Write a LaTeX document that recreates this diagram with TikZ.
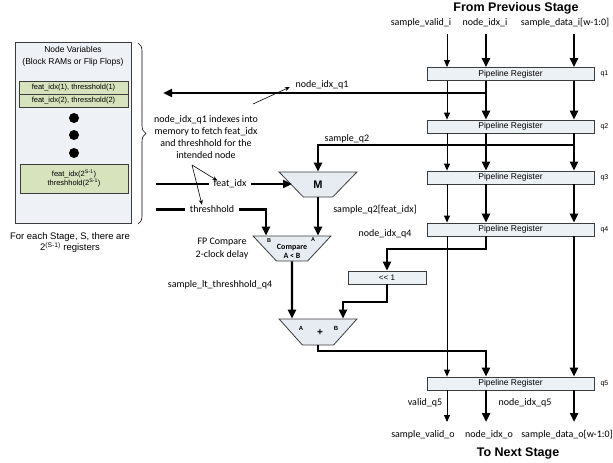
\documentclass[tikz,border=0pt]{standalone}
\usepackage{fontspec}
\setmainfont{Carlito}
\newfontfamily\arialfont{Liberation Sans}
\usetikzlibrary{arrows.meta,shapes.geometric,decorations.pathreplacing,positioning}
\definecolor{regFill}{RGB}{236,241,246}
\definecolor{memFill}{RGB}{238,242,247}
\definecolor{cellGreen}{RGB}{214,227,188}
\definecolor{aluFill}{RGB}{230,236,242}
\definecolor{lineGray}{RGB}{60,60,60}
\tikzstyle{wire}=[line width=0.9pt, -{Triangle[length=7pt,width=6pt]}]
\tikzstyle{bus}=[line width=2.4pt, -{Triangle[length=9pt,width=8pt]}]
\tikzstyle{pointer}=[line width=0.6pt, -{Stealth[length=5pt,width=4pt]}]
\tikzstyle{preg}=[draw=lineGray, line width=0.8pt, fill=regFill,
                  minimum width=167pt, minimum height=13pt, inner sep=0pt,
                  font=\arialfont\fontsize{8.5}{9}\selectfont]
\tikzstyle{cell}=[draw=lineGray, line width=0.8pt, fill=cellGreen,
                  minimum width=109pt, inner sep=0pt, align=center,
                  font=\arialfont\fontsize{7.5}{9.5}\selectfont]
\tikzstyle{alu}=[trapezium, shape border rotate=180, trapezium stretches=true,
                 trapezium angle=45, minimum width=78pt, minimum height=25pt,
                 draw=lineGray, line width=0.8pt, fill=aluFill, inner sep=0pt]
\tikzstyle{lbl}=[font=\fontsize{10}{12}\selectfont, inner sep=1pt]
\tikzstyle{tiny}=[font=\arialfont\fontsize{7}{8}\selectfont, inner sep=0pt]
\tikzstyle{head}=[font=\arialfont\bfseries\fontsize{12.5}{14}\selectfont, inner sep=0pt]

\begin{document}
\begin{tikzpicture}[x=1pt,y=-1pt]
    \useasboundingbox (0,0) rectangle (613,463);

    % memory of the stage
    \node[draw=lineGray, line width=0.8pt, fill=memFill, minimum width=116pt,
          minimum height=181pt, inner sep=0pt] (mem) at (73,132.5) {};
    \node[align=center, font=\arialfont\fontsize{8.5}{12}\selectfont]
          (memTitle) at (73,56) {Node Variables\\(Block RAMs or Flip Flops)};
    \node[cell, minimum height=13pt] (cell1) at (73.5,87.5) {feat\_idx(1), thresshold(1)};
    \node[cell, minimum height=13pt] (cell2) at (73.5,100.5) {feat\_idx(2), thresshold(2)};
    \foreach \y [count=\i] in {118,135,153}
        \fill (74,\y) circle (5pt) coordinate (dot\i);
    \node[cell, minimum height=29pt, minimum width=108pt] (cellN) at (74,178.5)
          {feat\_idx(2\textsuperscript{S-1})\\threshhold(2\textsuperscript{S-1})};
    \node[align=center, font=\arialfont\fontsize{9.5}{11}\selectfont] (memNote) at (70,243)
          {For each Stage, S, there are\\2\textsuperscript{(S-1)} registers};
    \draw[line width=0.6pt, decorate, decoration={brace, amplitude=8pt}]
          (138,43) -- (138,224);

    % pipeline registers
    \coordinate (cv) at (447,0);
    \coordinate (cn) at (486,0);
    \coordinate (cd) at (574,0);
    \foreach \n/\y in {1/74,2/126.5,3/177.5,4/229.5,5/383.5}{
        \node[preg] (r\n) at (510.5,\y) {Pipeline Register};
        \node[tiny, right=6pt of r\n] (q\n) {q\n};
    }

    \node[head] (fromPrev) at (516,8) {From Previous Stage};
    \node[lbl] (vIn) at (421,23) {sample\_valid\_i};
    \node[lbl] (nIn) at (485,23) {node\_idx\_i};
    \node[lbl] (dIn) at (565,23) {sample\_data\_i[w-1:0]};
    \coordinate (vTop) at (447,34);
    \coordinate (nTop) at (486,34);
    \coordinate (dTop) at (574,34);
    \draw[wire] (vTop) -- (r1.north -| cv);
    \draw[bus] (nTop) -- (r1.north -| cn);
    \draw[bus] (dTop) -- (r1.north -| cd);

    \foreach \a/\b in {r1/r2,r2/r3,r3/r4}{
        \draw[wire] (\a.south -| cv) -- (\b.north -| cv);
        \draw[bus] (\a.south -| cn) -- (\b.north -| cn);
        \draw[bus] (\a.south -| cd) -- (\b.north -| cd);
    }
    \draw[wire] (r4.south -| cv) -- (r5.north -| cv);
    \draw[bus] (r4.south -| cd) -- (r5.north -| cd);

    % index into memory
    \coordinate (tapN) at (486,93);
    \coordinate (memIn) at (163,93);
    \draw[bus] (tapN) -- (memIn);
    \node[lbl] (lblNq1) at (322,85) {node\_idx\_q1};
    \node[lbl, align=center] (note) at (206,137)
          {node\_idx\_q1 indexes into\\memory to fetch feat\_idx\\and threshhold for the\\intended node};
    \coordinate (ptr) at (253,104);
    \draw[pointer, shorten >=5pt] (ptr) -- (lblNq1.west);

    % mux and compare
    \node[alu] (mux) at (318,184.5) {\arialfont\bfseries\fontsize{11}{12}\selectfont M};
    \node[alu] (cmp) at (292,248.5) {\phantom{M}};
    \node[align=center, font=\bfseries\fontsize{8}{9.5}\selectfont] (cmpTxt) at (292,251.5) {Compare\\A < B};
    \node[tiny, font=\arialfont\bfseries\fontsize{5.5}{6}\selectfont] (cmpB) at (269,241) {B};
    \node[tiny, font=\arialfont\bfseries\fontsize{5.5}{6}\selectfont] (cmpA) at (313,240) {A};
    \node[lbl, align=center, font=\fontsize{10}{13}\selectfont] (fpNote) at (222,248.5) {FP Compare\\2-clock delay};

    \coordinate (tapD) at (574,145);
    \draw[bus] (tapD) -| (mux.north);
    \node[lbl] (lblSq2) at (347,139) {sample\_q2};

    \coordinate (featIn) at (156,184);
    \coordinate (portM) at (292,0);
    \draw[bus] (featIn) -- (featIn -| portM);
    \node[lbl, fill=white, inner xsep=5pt] (lblFeat) at (230,184) {feat\_idx};

    \coordinate (thrIn) at (156,209.5);
    \coordinate (portB) at (266,0);
    \draw[bus] (thrIn) -| (cmp.north -| portB);
    \node[lbl, fill=white, inner xsep=5pt] (lblThr) at (212,209.5) {threshhold};

    \coordinate (fork) at (192,165);
    \draw[pointer] (fork) -- ([xshift=9pt,yshift=-2pt]lblFeat.north west);
    \draw[pointer] (fork) -- ([xshift=-10pt]lblThr.north);

    \draw[bus] (mux.south) -- (mux.south |- cmp.north);
    \node[lbl] (lblMux) at (375,210) {sample\_q2[feat\_idx]};

    % shift and add
    \node[draw=lineGray, line width=0.8pt, fill=regFill, minimum width=78pt,
          minimum height=13pt, inner sep=0pt, font=\arialfont\fontsize{8}{8}\selectfont]
          (shl) at (387,277.5) {<{}< 1};
    \draw[bus] (r4.south -| cn) |- (486,249) -| (shl.north);
    \node[lbl] (lblNq4) at (385,234) {node\_idx\_q4};

    \node[alu, minimum height=26pt] (add) at (318,332) {\phantom{M}};
    \node[tiny, font=\arialfont\bfseries\fontsize{6}{6}\selectfont] (addA) at (301,328) {A};
    \node[tiny, font=\arialfont\bfseries\fontsize{6}{6}\selectfont] (addB) at (336,328) {B};
    \node[tiny, font=\arialfont\bfseries\fontsize{10}{10}\selectfont] (addOp) at (320,333) {+};
    \coordinate (portAddA) at (292,0);
    \coordinate (portAddB) at (343,0);
    \draw[bus] (cmp.south) -- (add.north -| portAddA);
    \node[lbl] (lblLt) at (220,285) {sample\_lt\_threshhold\_q4};
    \draw[bus] (shl.south) |- (343,302) -- (add.north -| portAddB);

    \draw[bus] (add.south) |- (486,351) -- (r5.north -| cn);

    % outputs
    \coordinate (vBot) at (447,422);
    \coordinate (nBot) at (486,422);
    \coordinate (dBot) at (574,422);
    \draw[wire] (r5.south -| cv) -- (vBot);
    \draw[bus] (r5.south -| cn) -- (nBot);
    \draw[bus] (r5.south -| cd) -- (dBot);
    \node[lbl] (lblVq5) at (425,403) {valid\_q5};
    \node[lbl] (lblNq5) at (525,403) {node\_idx\_q5};
    \node[lbl] (vOut) at (423,435) {sample\_valid\_o};
    \node[lbl] (nOut) at (489,435) {node\_idx\_o};
    \node[lbl] (dOut) at (567,435) {sample\_data\_o[w-1:0]};
    \node[head] (toNext) at (518,453) {To Next Stage};
\end{tikzpicture}
\end{document}
